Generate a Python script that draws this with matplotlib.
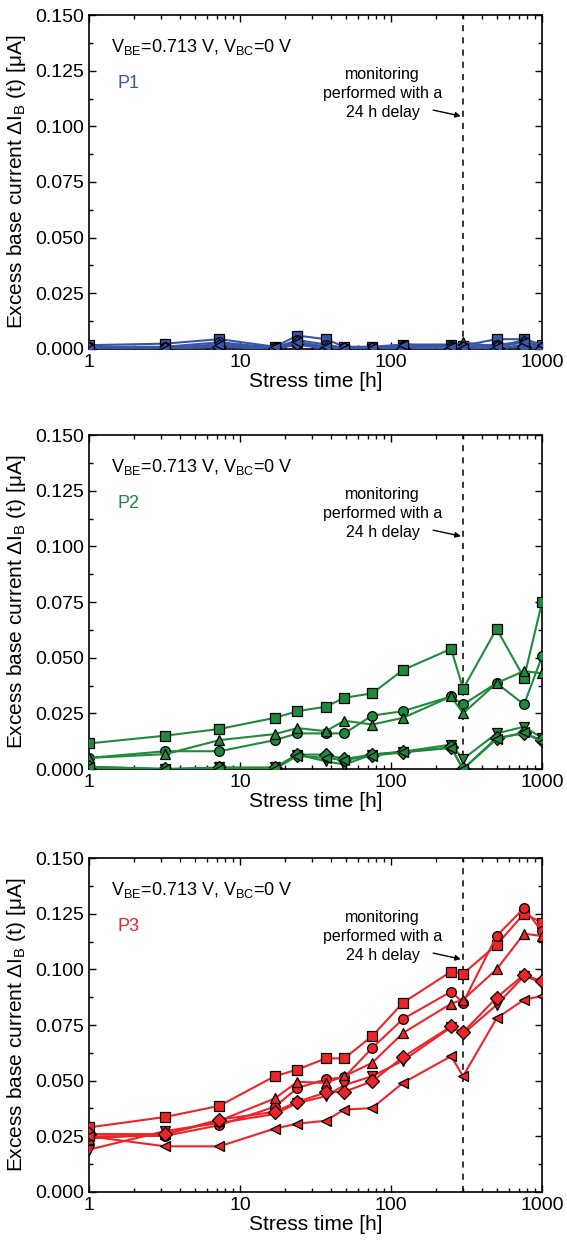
import matplotlib
matplotlib.use("Agg")
import matplotlib.pyplot as plt
from matplotlib.ticker import MultipleLocator, FixedLocator, LogLocator, NullFormatter

plt.rcParams['font.family'] = ['Liberation Sans', 'DejaVu Sans']
plt.rcParams['mathtext.default'] = 'regular'

# ---------------- data ----------------
times = [1, 3.2, 7.3, 17, 24, 37, 49, 75, 120, 250, 300, 500, 760, 1000]
markers = ['s', 'o', '^', 'v', 'D', '<']

p1_sq = [0.0017, 0.0024, 0.0044, 0.0010, 0.0060, 0.0044, 0.0010, 0.0010, 0.0020, 0.0020, 0.0015, 0.0044, 0.0044, 0.0020]
p1_ci = [0.0010, 0.0010, 0.0030, 0.0005, 0.0040, 0.0020, 0.0005, 0.0005, 0.0015, 0.0015, 0.0010, 0.0020, 0.0030, 0.0010]
p1_tu = [0.0005, 0.0005, 0.0020, 0.0000, 0.0030, 0.0010, 0.0000, 0.0010, 0.0010, 0.0010, 0.0030, 0.0010, 0.0040, 0.0000]
p1_td = [0.0000, 0.0000, 0.0010, 0.0000, 0.0020, 0.0000, 0.0000, 0.0000, 0.0005, 0.0000, 0.0000, 0.0000, 0.0020, 0.0000]
p1_di = [0.0000, 0.0000, 0.0015, 0.0000, 0.0025, 0.0000, 0.0000, 0.0000, 0.0000, 0.0000, 0.0005, 0.0005, 0.0010, 0.0000]
p1_lt = [0.0000, 0.0000, 0.0020, 0.0010, 0.0030, 0.0010, 0.0000, 0.0005, 0.0020, 0.0010, 0.0005, 0.0010, 0.0030, 0.0020]

p2_sq = [0.0115, 0.0150, 0.0180, 0.0230, 0.0260, 0.0280, 0.0320, 0.0340, 0.0445, 0.0540, 0.0360, 0.0630, 0.0410, 0.0750]
p2_ci = [0.0050, 0.0080, 0.0080, 0.0130, 0.0160, 0.0160, 0.0160, 0.0240, 0.0260, 0.0326, 0.0290, 0.0386, 0.0290, 0.0506]
p2_tu = [0.0050, 0.0067, 0.0130, 0.0157, 0.0184, 0.0170, 0.0217, 0.0200, 0.0230, 0.0326, 0.0250, 0.0386, 0.0440, 0.0430]
p2_td = [0.0005, 0.0000, 0.0007, 0.0007, 0.0065, 0.0035, 0.0020, 0.0065, 0.0078, 0.0110, 0.0045, 0.0160, 0.0190, 0.0140]
p2_di = [0.0010, 0.0000, 0.0005, 0.0005, 0.0065, 0.0065, 0.0045, 0.0065, 0.0078, 0.0097, 0.0000, 0.0140, 0.0160, 0.0130]
p2_lt = [0.0010, 0.0000, 0.0000, 0.0000, 0.0060, 0.0050, 0.0040, 0.0060, 0.0075, 0.0095, 0.0000, 0.0135, 0.0165, 0.0120]

p3_sq = [0.0290, 0.0337, 0.0387, 0.0520, 0.0550, 0.0600, 0.0600, 0.0700, 0.0850, 0.0990, 0.0980, 0.1110, 0.1250, 0.1210]
p3_ci = [0.0250, 0.0252, 0.0300, 0.0383, 0.0467, 0.0506, 0.0515, 0.0647, 0.0777, 0.0900, 0.0850, 0.1150, 0.1275, 0.1170]
p3_tu = [0.0240, 0.0260, 0.0320, 0.0420, 0.0495, 0.0490, 0.0520, 0.0580, 0.0714, 0.0846, 0.0864, 0.1000, 0.1160, 0.1150]
p3_td = [0.0190, 0.0274, 0.0310, 0.0350, 0.0400, 0.0430, 0.0480, 0.0520, 0.0590, 0.0740, 0.0710, 0.0840, 0.0970, 0.0940]
p3_di = [0.0260, 0.0260, 0.0325, 0.0360, 0.0405, 0.0447, 0.0450, 0.0497, 0.0606, 0.0744, 0.0717, 0.0873, 0.0976, 0.0946]
p3_lt = [0.0250, 0.0205, 0.0205, 0.0285, 0.0307, 0.0320, 0.0370, 0.0377, 0.0490, 0.0610, 0.0520, 0.0780, 0.0864, 0.0880]

panels = [
    ("P1", "#3a55a6", [p1_sq, p1_ci, p1_tu, p1_td, p1_di, p1_lt]),
    ("P2", "#1f8a3c", [p2_sq, p2_ci, p2_tu, p2_td, p2_di, p2_lt]),
    ("P3", "#ee2428", [p3_sq, p3_ci, p3_tu, p3_td, p3_di, p3_lt]),
]
delay_time = 300
yticks = [0.000, 0.025, 0.050, 0.075, 0.100, 0.125, 0.150]

# ---------------- figure ----------------
fig = plt.figure(figsize=(5.67, 12.41), dpi=100)
left, width, height = 0.157, 0.799, 0.2691
bottoms = [0.7188, 0.3803, 0.0395]

for (name, color, series), b in zip(panels, bottoms):
    ax = fig.add_axes([left, b, width, height])
    for ys, m in zip(series, markers):
        ax.plot(times, ys, color=color, lw=1.5, marker=m, ms=7,
                mfc=color, mec='black', mew=0.9, zorder=3)
    ax.axvline(delay_time, color='black', ls=(0, (4, 4)), lw=1.1, zorder=2)
    ax.set_xscale('log')
    ax.set_xlim(1, 1000)
    ax.set_ylim(0, 0.150)
    ax.set_yticks(yticks)
    ax.set_yticklabels([f"{v:.3f}" for v in yticks])
    ax.yaxis.set_minor_locator(MultipleLocator(0.0125))
    ax.xaxis.set_major_locator(FixedLocator([1, 10, 100, 1000]))
    ax.set_xticklabels(["1", "10", "100", "1000"])
    ax.xaxis.set_minor_locator(LogLocator(base=10, subs=range(2, 10)))
    ax.xaxis.set_minor_formatter(NullFormatter())
    ax.tick_params(which='both', direction='in', top=True, right=True, labelsize=14, width=1.0)
    ax.tick_params(which='major', length=5)
    ax.tick_params(which='minor', length=3)
    for sp in ax.spines.values():
        sp.set_linewidth(1.2)
    ax.set_xlabel("Stress time [h]", fontsize=15, labelpad=1)
    ax.set_ylabel("Excess base current \u0394I$_{B}$ (t) [\u03bcA]", fontsize=15, labelpad=5)

    ax.text(0.049, 0.905, "V$_{BE}$=0.713 V, V$_{BC}$=0 V", transform=ax.transAxes,
            fontsize=13, ha='left', va='center')
    ax.text(0.062, 0.796, name, transform=ax.transAxes, fontsize=13,
            color=color, ha='left', va='center')
    ax.text(0.648, 0.765, "monitoring\nperformed with a\n24 h delay", transform=ax.transAxes,
            fontsize=11.5, ha='center', va='center', linespacing=1.3)
    ax.annotate("", xy=(290, 0.1046), xytext=(190, 0.1073),
                arrowprops=dict(arrowstyle='-|>', color='black', lw=1.0,
                                mutation_scale=8, shrinkA=0, shrinkB=0))

fig.savefig("out.png", dpi=100)
